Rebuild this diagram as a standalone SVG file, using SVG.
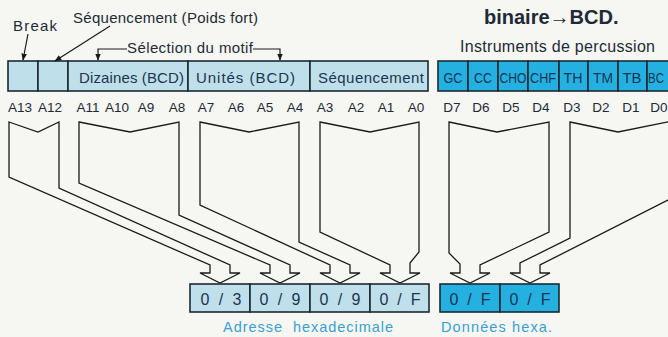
<svg xmlns="http://www.w3.org/2000/svg" width="668" height="337" viewBox="0 0 668 337">
<style>
.bg{fill:#f6f6f3}
.lc{fill:#bfe0ea;stroke:#1c2a30;stroke-width:1.6}
.dc{fill:#25b0e2;stroke:#1c2a30;stroke-width:1.6}
.t{font-family:"Liberation Sans",Arial,sans-serif;fill:#1e2a36}
.ct{font-family:"Liberation Sans",Arial,sans-serif;font-size:15px;fill:#1b3550}
.bit{font-family:"Liberation Sans",Arial,sans-serif;font-size:13.5px;fill:#1e2a36;text-anchor:middle}
.hx{font-family:"Liberation Sans",Arial,sans-serif;font-size:16px;fill:#1b3550;text-anchor:middle}
.cap{font-family:"Liberation Sans",Arial,sans-serif;font-size:14.5px;fill:#3a9fd0}
.fun{fill:none;stroke:#1a1a1a;stroke-width:1.3;stroke-linejoin:miter}
.ln{fill:none;stroke:#1a1a1a;stroke-width:1.2}
</style>
<defs>
<marker id="ah" viewBox="0 0 10 10" refX="9" refY="5" markerWidth="7" markerHeight="7" orient="auto" markerUnits="userSpaceOnUse">
<path d="M0,1 L10,5 L0,9 z" fill="#1a1a1a"/>
</marker>
</defs>
<rect class="bg" x="0" y="0" width="668" height="337"/>

<text class="t" x="484" y="24" font-size="20" font-weight="bold">binaire→BCD.</text>

<g id="labels-top">
<text class="t" x="13" y="31" font-size="15" textLength="44">Break</text>
<text class="t" x="73" y="23" font-size="15" textLength="185">Séquencement (Poids fort)</text>
<text class="t" x="127" y="53" font-size="15" textLength="126">Sélection du motif</text>
<text class="t" x="460" y="52" font-size="16" textLength="195">Instruments de percussion</text>
</g>

<g id="address-register">
<rect class="lc" x="8" y="61" width="30" height="30"/>
<rect class="lc" x="38" y="61" width="30" height="30"/>
<rect class="lc" x="68" y="61" width="120" height="30"/>
<rect class="lc" x="188" y="61" width="122" height="30"/>
<rect class="lc" x="310" y="61" width="118" height="30"/>
<text class="ct" x="79" y="83" textLength="105">Dizaines (BCD)</text>
<text class="ct" x="196" y="83" textLength="99">Unités (BCD)</text>
<text class="ct" x="318" y="83" textLength="106">Séquencement</text>
</g>

<g id="data-register">
<rect class="dc" x="438" y="61" width="30" height="30"/>
<rect class="dc" x="468" y="61" width="30" height="30"/>
<rect class="dc" x="498" y="61" width="30" height="30"/>
<rect class="dc" x="528" y="61" width="31" height="30"/>
<rect class="dc" x="559" y="61" width="29" height="30"/>
<rect class="dc" x="588" y="61" width="30" height="30"/>
<rect class="dc" x="618" y="61" width="29" height="30"/>
<rect class="dc" x="647" y="61" width="30" height="30"/>
<g class="ct" text-anchor="middle">
<text x="453" y="83" textLength="19" lengthAdjust="spacingAndGlyphs">GC</text>
<text x="483" y="83" textLength="18" lengthAdjust="spacingAndGlyphs">CC</text>
<text x="513" y="83" textLength="27" lengthAdjust="spacingAndGlyphs">CHO</text>
<text x="543" y="83" textLength="26" lengthAdjust="spacingAndGlyphs">CHF</text>
<text x="573" y="83" textLength="19" lengthAdjust="spacingAndGlyphs">TH</text>
<text x="603" y="83" textLength="20" lengthAdjust="spacingAndGlyphs">TM</text>
<text x="632" y="83" textLength="19" lengthAdjust="spacingAndGlyphs">TB</text>
<text x="656" y="83" textLength="16" lengthAdjust="spacingAndGlyphs">BC</text>
</g>
</g>

<g id="bits">
<text class="bit" x="20" y="112">A13</text>
<text class="bit" x="50" y="112">A12</text>
<text class="bit" x="88" y="112">A11</text>
<text class="bit" x="117" y="112">A10</text>
<text class="bit" x="146" y="112">A9</text>
<text class="bit" x="177" y="112">A8</text>
<text class="bit" x="206" y="112">A7</text>
<text class="bit" x="236" y="112">A6</text>
<text class="bit" x="265" y="112">A5</text>
<text class="bit" x="295" y="112">A4</text>
<text class="bit" x="325" y="112">A3</text>
<text class="bit" x="356" y="112">A2</text>
<text class="bit" x="386" y="112">A1</text>
<text class="bit" x="416" y="112">A0</text>
<text class="bit" x="452" y="112">D7</text>
<text class="bit" x="481" y="112">D6</text>
<text class="bit" x="511" y="112">D5</text>
<text class="bit" x="541" y="112">D4</text>
<text class="bit" x="572" y="112">D3</text>
<text class="bit" x="601" y="112">D2</text>
<text class="bit" x="631" y="112">D1</text>
<text class="bit" x="659" y="112">D0</text>
</g>

<g id="connectors">
<line class="ln" x1="28" y1="34" x2="23" y2="60" marker-end="url(#ah)"/>
<line class="ln" x1="110" y1="26" x2="55" y2="61" marker-end="url(#ah)"/>
<polyline class="ln" points="127,49 98,49 98,60" marker-end="url(#ah)"/>
<polyline class="ln" points="253,49 280,49 280,60" marker-end="url(#ah)"/>
<polygon class="fun" points="9,122 38,132 59,122 59,188 230,265 230,273 240,273 220,283 200,273 210,273 210,265 9,177"/>
<polygon class="fun" points="79,122 130,132 179,122 179,215 290,265 290,273 300,273 280,283 260,273 270,273 270,265 79,183"/>
<polygon class="fun" points="200,122 249,132 299,122 299,242 350,265 350,273 360,273 340,283 320,273 330,273 330,265 200,205"/>
<polygon class="fun" points="320,122 370,132 419,122 419,252 410,263 410,273 420,273 400,283 380,273 390,273 390,265 320,232"/>
<polygon class="fun" points="449,122 497,132 549,122 549,232 480,265 480,273 490,273 470,283 450,273 460,273 460,264 449,253"/>
<polygon class="fun" points="570,122 618,132 672,121 672,198 540,265 540,273 550,273 530,283 510,273 520,273 520,263 570,238"/>
</g>

<g id="hex-address">
<rect class="lc" x="190" y="284" width="60" height="28"/>
<rect class="lc" x="250" y="284" width="60" height="28"/>
<rect class="lc" x="310" y="284" width="60" height="28"/>
<rect class="lc" x="370" y="284" width="59" height="28"/>
<text class="hx" x="221" y="305" textLength="41" xml:space="preserve">0 / 3</text>
<text class="hx" x="280" y="305" textLength="41" xml:space="preserve">0 / 9</text>
<text class="hx" x="340" y="305" textLength="41" xml:space="preserve">0 / 9</text>
<text class="hx" x="400" y="305" textLength="41" xml:space="preserve">0 / F</text>
<text class="cap" x="223" y="332" textLength="170" xml:space="preserve">Adresse  hexadecimale</text>
</g>

<g id="hex-data">
<rect class="dc" x="440" y="284" width="60" height="28"/>
<rect class="dc" x="500" y="284" width="59" height="28"/>
<text class="hx" x="470" y="305" textLength="41" xml:space="preserve">0 / F</text>
<text class="hx" x="530" y="305" textLength="41" xml:space="preserve">0 / F</text>
<text class="cap" x="441" y="332" textLength="111">Données hexa.</text>
</g>
</svg>
